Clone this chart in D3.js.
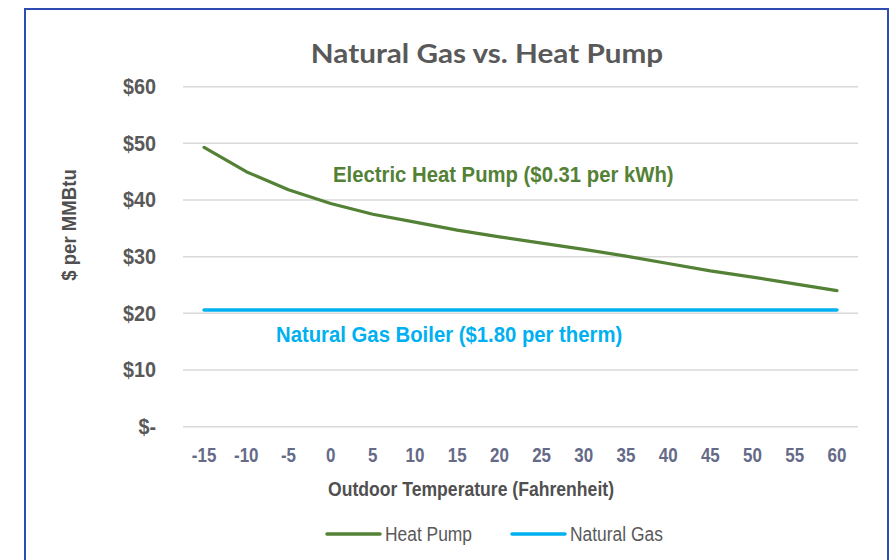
<!DOCTYPE html>
<html>
<head>
<meta charset="utf-8">
<script src="https://cdn.jsdelivr.net/npm/d3@7"></script>
<style>
  html, body { margin: 0; padding: 0; background: #fff; }
  svg { display: block; }
</style>
</head>
<body>
<svg id="chart" width="890" height="560"></svg>
<script>
// ---- data ----
const temperatures = ["-15","-10","-5","0","5","10","15","20","25","30","35","40","45","50","55","60"];
const heatPump = [49.3, 45.0, 41.8, 39.4, 37.5, 36.1, 34.7, 33.5, 32.4, 31.3, 30.1, 28.8, 27.5, 26.4, 25.2, 24.0];
const naturalGas = [20.6, 20.6, 20.6, 20.6, 20.6, 20.6, 20.6, 20.6, 20.6, 20.6, 20.6, 20.6, 20.6, 20.6, 20.6, 20.6];
const yTicks = [0, 10, 20, 30, 40, 50, 60];
const seriesNames = ["Heat Pump", "Natural Gas"];
const chartTitle = "Natural Gas vs. Heat Pump";
const xTitle = "Outdoor Temperature (Fahrenheit)";
const yTitle = "$ per MMBtu";
const hpLabel = "Electric Heat Pump ($0.31 per kWh)";
const ngLabel = "Natural Gas Boiler ($1.80 per therm)";

// ---- layout ----
const svg = d3.select("#chart");
const sans = "'Liberation Sans', Arial, sans-serif";
const colors = { "Heat Pump": "#538135", "Natural Gas": "#00B0F0" };

svg.append("rect")
  .attr("x", 25).attr("y", 9).attr("width", 863).attr("height", 570)
  .attr("fill", "#fff").attr("stroke", "#2E4BB0").attr("stroke-width", 2);

const x = d3.scaleBand().domain(temperatures).range([183, 858]);
const y = d3.scaleLinear().domain([0, 60]).range([426.7, 86.7]);

// text placed at (px,py) with a stretch
function stretchedText(px, py, sx, sy) {
  return svg.append("text").attr("transform", `translate(${px},${py}) scale(${sx},${sy})`);
}

// gridlines
svg.append("g").selectAll("line").data(yTicks).join("line")
  .attr("x1", 183).attr("x2", 858)
  .attr("y1", d => y(d)).attr("y2", d => y(d))
  .attr("stroke", "#D9D9D9").attr("stroke-width", 1.5);

// y axis
const yAxis = svg.append("g").attr("transform", "translate(156,0)")
  .call(d3.axisLeft(y).tickValues(yTicks).tickSize(0).tickPadding(0)
    .tickFormat(d => d === 0 ? "$-" : "$" + d));
yAxis.select(".domain").remove();
yAxis.selectAll("text")
  .attr("font-family", sans).attr("font-weight", "bold")
  .attr("font-size", 19.8).attr("fill", "#595959")
  .attr("dy", "0.3em").attr("transform", "scale(1,1.13)");

// x axis
const xAxis = svg.append("g").attr("transform", "translate(0,462)")
  .call(d3.axisBottom(x).tickSize(0).tickPadding(0));
xAxis.select(".domain").remove();
xAxis.selectAll("text")
  .attr("font-family", sans).attr("font-weight", "bold")
  .attr("font-size", 17).attr("fill", "#656A87")
  .attr("y", 0).attr("dy", 0).attr("transform", "scale(1,1.15)");

// lines
const line = d3.line().x((d, i) => x(temperatures[i]) + x.bandwidth() / 2).y(d => y(d));
svg.append("path").datum(naturalGas).attr("d", line)
  .attr("fill", "none").attr("stroke", colors["Natural Gas"])
  .attr("stroke-width", 3.5).attr("stroke-linecap", "round");
svg.append("path").datum(heatPump).attr("d", line)
  .attr("fill", "none").attr("stroke", colors["Heat Pump"])
  .attr("stroke-width", 3.2).attr("stroke-linecap", "round").attr("stroke-linejoin", "round");

// title
stretchedText(487, 63, 1.06, 0.93).attr("text-anchor", "middle")
  .attr("font-family", "Lato, 'Open Sans', sans-serif").attr("font-weight", "bold")
  .attr("font-size", 28).attr("fill", "#595959").text(chartTitle);

// axis titles
stretchedText(471, 496, 1, 1.18).attr("text-anchor", "middle")
  .attr("font-family", sans).attr("font-weight", "bold")
  .attr("font-size", 17.6).attr("fill", "#505050").text(xTitle);
svg.append("text").attr("transform", "translate(76,225) rotate(-90) scale(0.93,1)")
  .attr("text-anchor", "middle")
  .attr("font-family", sans).attr("font-weight", "bold")
  .attr("font-size", 20).attr("fill", "#505050").text(yTitle);

// annotations
stretchedText(333, 182, 1, 1.12)
  .attr("font-family", sans).attr("font-weight", "bold")
  .attr("font-size", 20.3).attr("fill", colors["Heat Pump"]).text(hpLabel);
stretchedText(276, 342, 1, 1.12)
  .attr("font-family", sans).attr("font-weight", "bold")
  .attr("font-size", 20.3).attr("fill", colors["Natural Gas"]).text(ngLabel);

// legend
const legendX = [327, 512];
const leg = svg.append("g").selectAll("g").data(seriesNames).join("g")
  .attr("transform", (d, i) => `translate(${legendX[i]},534)`);
leg.append("line").attr("x1", 0).attr("x2", 53).attr("y1", 0).attr("y2", 0)
  .attr("stroke", d => colors[d]).attr("stroke-width", 3.5).attr("stroke-linecap", "round");
leg.append("text").attr("transform", "translate(58,0) scale(1,1.15)").attr("dy", "0.36em")
  .attr("font-family", sans).attr("font-size", 17.4).attr("fill", "#595959").text(d => d);
</script>
</body>
</html>
